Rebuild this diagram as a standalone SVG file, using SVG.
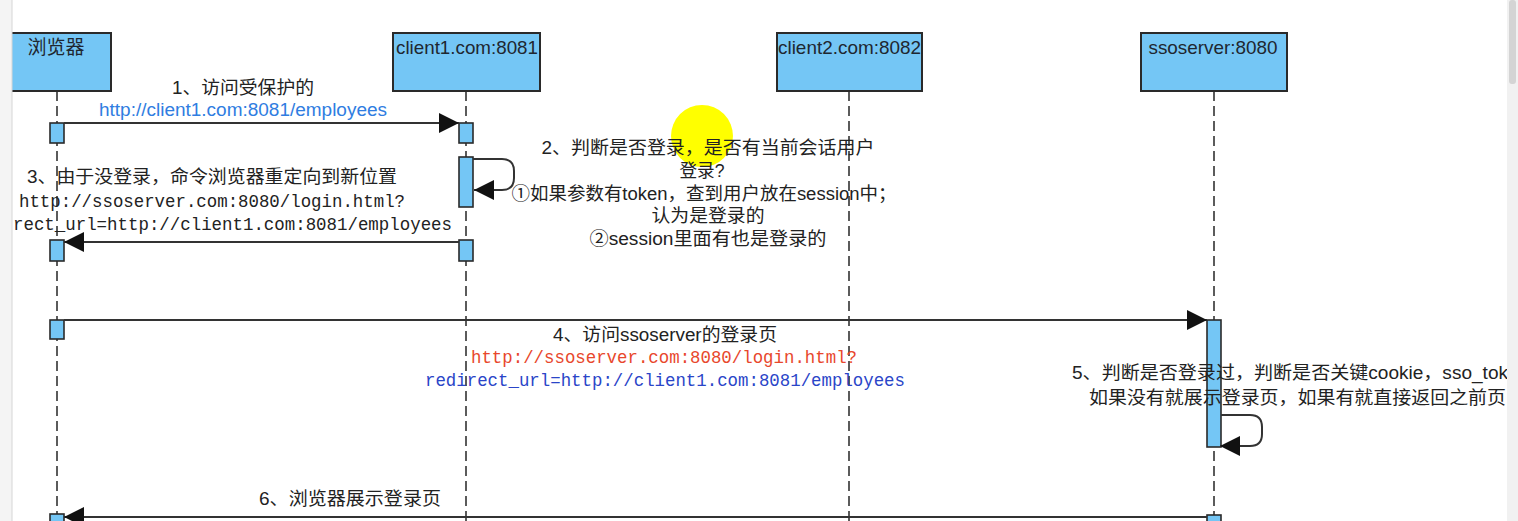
<svg xmlns="http://www.w3.org/2000/svg" width="1518" height="521" viewBox="0 0 1518 521">
<style>
.box{fill:#74c6f5;stroke:#2a2a2a;stroke-width:2}
.act{fill:#74c6f5;stroke:#2a2a2a;stroke-width:1.6}
.life{stroke:#333;stroke-width:1.6;stroke-dasharray:10 5;fill:none}
.msg{stroke:#333;stroke-width:2;fill:none}
.lbl{font-family:"Liberation Sans","Noto Sans CJK SC",sans-serif;font-size:19px;fill:#1f2730}
.t{font-family:"Liberation Sans","Noto Sans CJK SC",sans-serif;font-size:18px;fill:#222}
.mono{font-family:"Liberation Mono","Noto Sans CJK SC",monospace;font-size:18px}
</style>
<defs>
<marker id="ah" markerUnits="userSpaceOnUse" markerWidth="21" markerHeight="20" refX="20" refY="10" orient="auto">
<path d="M0,0 L20,10 L0,20 Z" fill="#111"/>
</marker>
</defs>
<rect x="0" y="0" width="1518" height="521" fill="#fff"/>
<circle cx="702" cy="136" r="31" fill="#ffff00"/>

<g id="browser">
<line class="life" x1="57" y1="91" x2="57" y2="521"/>
<rect class="box" x="3" y="33" width="108" height="58"/>
<text class="lbl" x="56" y="54" text-anchor="middle" textLength="57" lengthAdjust="spacingAndGlyphs">浏览器</text>
<rect class="act" x="50" y="123" width="14" height="20"/>
<rect class="act" x="50" y="240" width="14" height="21"/>
<rect class="act" x="50" y="320" width="14" height="19"/>
<rect class="act" x="50" y="514" width="14" height="12"/>
</g>
<g id="client1">
<line class="life" x1="466" y1="91" x2="466" y2="521"/>
<rect class="box" x="393" y="33" width="147" height="58"/>
<text class="lbl" x="467" y="54" text-anchor="middle" textLength="142" lengthAdjust="spacingAndGlyphs">client1.com:8081</text>
<rect class="act" x="459" y="123" width="14" height="20"/>
<rect class="act" x="459" y="157" width="14" height="50"/>
<rect class="act" x="459" y="240" width="14" height="21"/>
</g>
<g id="client2">
<line class="life" x1="849" y1="91" x2="849" y2="521"/>
<rect class="box" x="777" y="33" width="145" height="58"/>
<text class="lbl" x="849.5" y="54" text-anchor="middle" textLength="143" lengthAdjust="spacingAndGlyphs">client2.com:8082</text>
</g>
<g id="ssoserver">
<line class="life" x1="1214" y1="91" x2="1214" y2="521"/>
<rect class="box" x="1141" y="33" width="146" height="58"/>
<text class="lbl" x="1213" y="54" text-anchor="middle" textLength="129" lengthAdjust="spacingAndGlyphs">ssoserver:8080</text>
<rect class="act" x="1207" y="320" width="14" height="127"/>
<rect class="act" x="1207" y="515" width="14" height="12"/>
</g>

<g id="connectors">
<path class="msg" d="M64,123 H459" marker-end="url(#ah)"/>
<path class="msg" d="M473,159 H502 Q514,159 514,171 V178 Q514,190 502,190 H474" marker-end="url(#ah)"/>
<path class="msg" d="M459,242 H64" marker-end="url(#ah)"/>
<path class="msg" d="M64,320 H1207" marker-end="url(#ah)"/>
<path class="msg" d="M1221,415 H1250 Q1262,415 1262,427 V434 Q1262,446 1250,446 H1220" marker-end="url(#ah)"/>
<path class="msg" d="M1207,517 H64" marker-end="url(#ah)"/>
</g>

<g id="labels">
<text class="t" x="243" y="94" text-anchor="middle" textLength="142" lengthAdjust="spacingAndGlyphs">1、访问受保护的</text>
<text class="t" x="243" y="116" text-anchor="middle" textLength="288" lengthAdjust="spacingAndGlyphs" style="fill:#2f7de1">http://client1.com:8081/employees</text>

<text class="t" x="708" y="154" text-anchor="middle" textLength="333" lengthAdjust="spacingAndGlyphs">2、判断是否登录，是否有当前会话用户</text>
<text class="t" x="702" y="177" text-anchor="middle" textLength="45" lengthAdjust="spacingAndGlyphs">登录?</text>
<text class="t" x="704" y="200" text-anchor="middle" textLength="385" lengthAdjust="spacingAndGlyphs">①如果参数有token，查到用户放在session中；</text>
<text class="t" x="708" y="222" text-anchor="middle" textLength="113" lengthAdjust="spacingAndGlyphs">认为是登录的</text>
<text class="t" x="708" y="245" text-anchor="middle" textLength="237" lengthAdjust="spacingAndGlyphs">②session里面有也是登录的</text>

<text class="t" x="212" y="183" text-anchor="middle" textLength="370" lengthAdjust="spacingAndGlyphs">3、由于没登录，命令浏览器重定向到新位置</text>
<text class="mono" x="19" y="207" textLength="386" lengthAdjust="spacingAndGlyphs" fill="#222">http://ssoserver.com:8080/login.html?</text>
<text class="mono" x="13" y="230" textLength="439" lengthAdjust="spacingAndGlyphs" fill="#222">rect_url=http://client1.com:8081/employees</text>

<text class="t" x="665" y="341" text-anchor="middle" textLength="224" lengthAdjust="spacingAndGlyphs">4、访问ssoserver的登录页</text>
<text class="mono" x="471" y="363" textLength="386" lengthAdjust="spacingAndGlyphs" fill="#e8472c">http://ssoserver.com:8080/login.html?</text>
<text class="mono" x="425" y="386" textLength="480" lengthAdjust="spacingAndGlyphs" fill="#2a45c8">redirect_url=http://client1.com:8081/employees</text>

<text class="t" x="1072" y="379" textLength="436" lengthAdjust="spacingAndGlyphs">5、判断是否登录过，判断是否关键cookie，sso_tok</text>
<text class="t" x="1089" y="404" textLength="417" lengthAdjust="spacingAndGlyphs">如果没有就展示登录页，如果有就直接返回之前页</text>

<text class="t" x="350" y="505" text-anchor="middle" textLength="182" lengthAdjust="spacingAndGlyphs">6、浏览器展示登录页</text>
</g>

<rect x="0" y="0" width="12" height="521" fill="#f4f4f4"/>
<line x1="12" y1="0" x2="12" y2="521" stroke="#d6d6d6" stroke-width="1"/>
<rect x="1507" y="0" width="11" height="521" fill="#f1f1f1"/>
<rect x="1509" y="0" width="7" height="84" rx="3" fill="#d4d4d4"/>
</svg>
